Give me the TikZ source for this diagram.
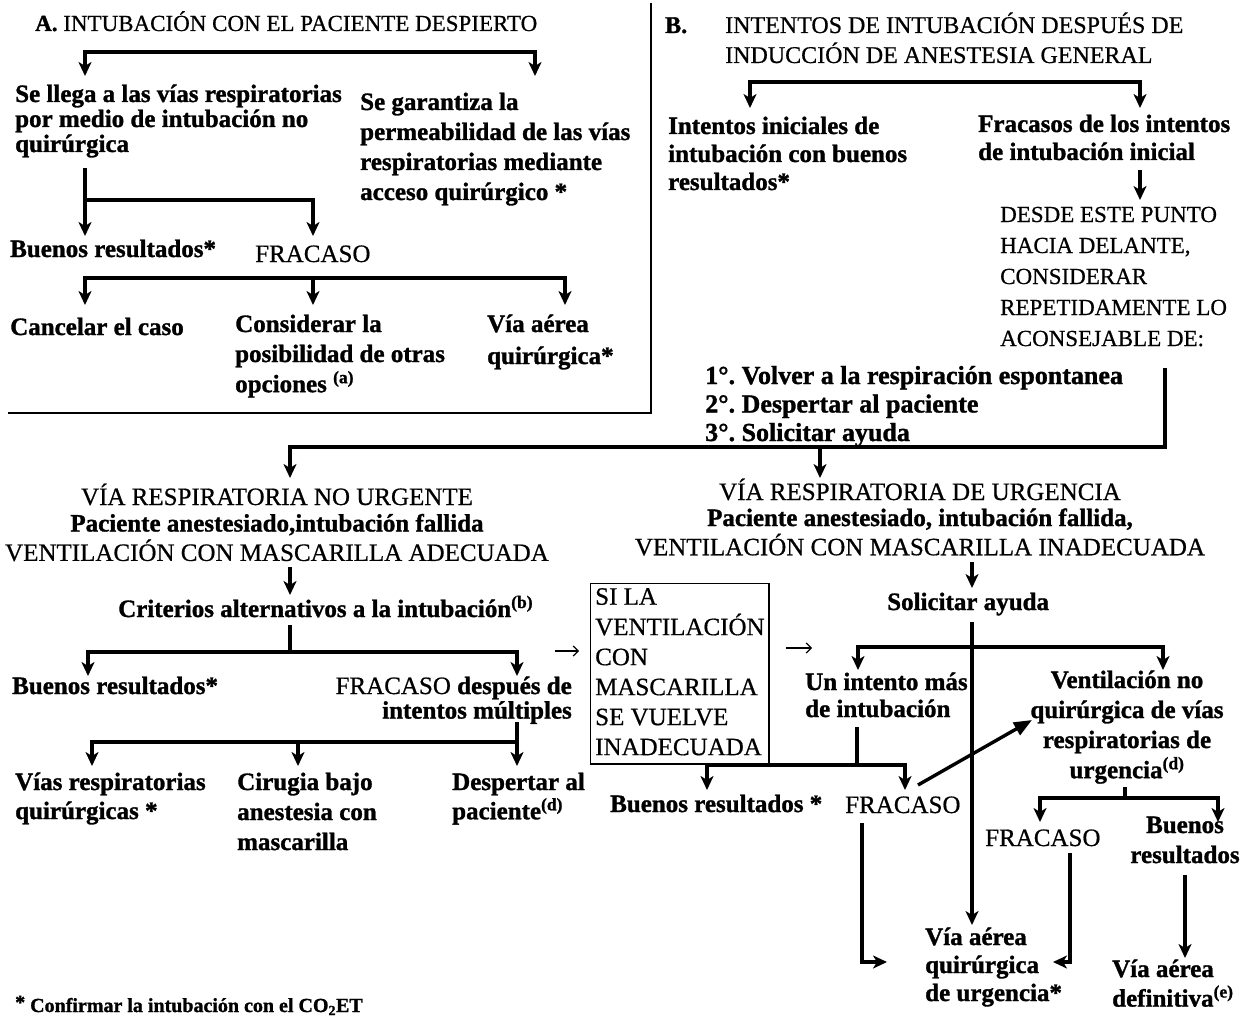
\documentclass[tikz,border=0pt]{standalone}
\usepackage{fontspec}
\setmainfont{Liberation Serif}[UprightFeatures={FakeBold=0.6},BoldFeatures={FakeBold=1.2}]
\usetikzlibrary{arrows.meta,calc}
\newcommand\blk[4]{\fontsize{#1}{#2}\selectfont\begin{tabular}[t]{@{}#3@{}}#4\end{tabular}}
\frenchspacing
\begin{document}
\begin{tikzpicture}[x=1pt,y=-1pt,
 b/.style={inner sep=0pt,anchor=base west,font=\bfseries},
 r/.style={inner sep=0pt,anchor=base west,font=\mdseries},
 bc/.style={inner sep=0pt,anchor=base,font=\bfseries},
 br/.style={inner sep=0pt,anchor=base east,font=\bfseries},
 ln/.style={line width=3.1pt,line join=miter},
 arr/.style={ln,-{Stealth[length=14pt,width=13pt,inset=4pt]}},
 thinarr/.style={line width=1.2pt,-{Straight Barb[length=5pt,width=10pt]}},
 bigarr/.style={line width=3.4pt,-{Triangle[length=18pt,width=14pt]}},
 frame/.style={line width=1.8pt},
 boxnode/.style={draw,line width=1.4pt,anchor=north west,inner xsep=4.5pt,inner ysep=0pt,font=\mdseries},
]
\fill[white] (0,0) rectangle (1246,1035);
\useasboundingbox (0,0) rectangle (1246,1035);

% ---------------- Section A ----------------
\node[b] (tA) at (35,31) {\blk{23}{23}{l}{A.\textmd{ INTUBACIÓN CON EL PACIENTE DESPIERTO}}};
\node[b] (a1) at (15,102) {\blk{25}{25}{l}{Se llega a las vías respiratorias\\por medio de intubación no\\quirúrgica}};
\node[b] (a2) at (360,110) {\blk{25}{30}{l}{Se garantiza la\\permeabilidad de las vías\\respiratorias mediante\\acceso quirúrgico *}};
\node[b] (a3) at (10,257) {\blk{25}{25}{l}{Buenos resultados*}};
\node[r] (a4) at (255,262) {\blk{25}{25}{l}{FRACASO}};
\node[b] (a5) at (10,335) {\blk{25}{25}{l}{Cancelar el caso}};
\node[b] (a6) at (235,332) {\blk{25}{30}{l}{Considerar la\\posibilidad de otras\\opciones \textsuperscript{(a)}}};
\node[b] (a7) at (487,332) {\blk{25}{32}{l}{Vía aérea\\quirúrgica*}};

\coordinate (ja1) at (310,52);
\draw[arr] (ja1) -| (85,76);
\draw[arr] (ja1) -| (535,76);
\coordinate (ja2) at (85,200);
\draw[arr] (85,168) -- (85,236);
\draw[arr] (ja2) -| (313,236);
\coordinate (ja3) at (313,278);
\draw[arr] (ja3) -| (85,305);
\draw[arr] (ja3) -| (565,305);
\draw[arr] (ja3) -- (313,305);
\draw[frame] (651,3) -- (651,413) -- (8,413);

% ---------------- Section B ----------------
\node[b] (tB) at (665,33) {\blk{24}{24}{l}{B.}};
\node[r] (tB2) at (725,33) {\blk{24}{30}{l}{INTENTOS DE INTUBACIÓN DESPUÉS DE\\INDUCCIÓN DE ANESTESIA GENERAL}};
\coordinate (jb1) at (945,82);
\draw[arr] (jb1) -| (750,108);
\draw[arr] (jb1) -| (1140,108);
\node[b] (b1) at (668,134) {\blk{25}{28}{l}{Intentos iniciales de\\intubación con buenos\\resultados*}};
\node[b] (b2) at (978,132) {\blk{25}{28}{l}{Fracasos de los intentos\\de intubación inicial}};
\draw[arr] (1140,170) -- (1140,200);
\node[r] (b3) at (1000,222) {\blk{23}{31}{l}{DESDE ESTE PUNTO\\HACIA DELANTE,\\CONSIDERAR\\REPETIDAMENTE LO\\ACONSEJABLE DE:}};
\node[b] (b4) at (705,384) {\blk{26}{28.5}{l}{1°. Volver a la respiración espontanea\\2°. Despertar al paciente\\3°. Solicitar ayuda}};
\coordinate (jb2) at (1165,447);
\draw[arr] (1165,368) -- (jb2) -| (290,478);
\draw[arr] (820,447) -- (820,478);

% ---------------- Non-urgent branch ----------------
\node[bc] (c1) at (277,505) {\blk{25}{26.5}{c}{\textmd{VÍA RESPIRATORIA NO URGENTE}\\Paciente anestesiado,intubación fallida\\\textmd{VENTILACIÓN CON MASCARILLA ADECUADA}}};
\draw[arr] (290,567) -- (290,595);
\node[b] (c2) at (118,617) {\blk{25}{25}{l}{Criterios alternativos a la intubación\textsuperscript{(b)}}};
\coordinate (jc1) at (290,652);
\draw[arr] (290,625) -- (jc1) -| (88,676);
\draw[arr] (jc1) -| (517,676);
\node[b] (c3) at (12,694) {\blk{25}{25}{l}{Buenos resultados*}};
\node[br] (c4) at (572,694) {\blk{25}{24}{r}{\textmd{FRACASO} después de\\intentos múltiples}};
\coordinate (jc2) at (517,742);
\draw[arr] (517,722) -- (517,766);
\draw[arr] (jc2) -| (92,766);
\draw[arr] (298,742) -- (298,766);
\node[b] (c5) at (15,790) {\blk{25}{29}{l}{Vías respiratorias\\quirúrgicas *}};
\node[b] (c6) at (237,790) {\blk{25}{30}{l}{Cirugia bajo\\anestesia con\\mascarilla}};
\node[b] (c7) at (452,790) {\blk{25}{27}{l}{Despertar al\\paciente\textsuperscript{(d)}}};

% ---------------- Box ----------------
\node[boxnode] (box) at (590,583) {\blk{25}{30}{l}{SI LA\\VENTILACIÓN\\CON\\MASCARILLA\\SE VUELVE\\INADECUADA}};
\coordinate (tl1) at (555,651);
\coordinate (tr1) at (786,648);
\draw[thinarr] (tl1) -- ($(box.west |- tl1)+(-11,0)$);
\draw[thinarr] (tr1) -- ++(26,0);

% ---------------- Urgent branch ----------------
\node[bc] (d1) at (920,500) {\blk{25}{26}{c}{\textmd{VÍA RESPIRATORIA DE URGENCIA}\\Paciente anestesiado, intubación fallida,\\\textmd{VENTILACIÓN CON MASCARILLA INADECUADA}}};
\draw[arr] (972,562) -- (972,588);
\node[b] (d2) at (887,610) {\blk{25}{25}{l}{Solicitar ayuda}};
\coordinate (jd1) at (972,647);
\draw[arr] (972,622) -- (972,925);
\draw[arr] (jd1) -| (858,670);
\draw[arr] (jd1) -| (1163,670);
\node[b] (d3) at (805,690) {\blk{25}{27}{l}{Un intento más\\de intubación}};
\node[bc] (d4) at (1127,688) {\blk{25}{30}{c}{Ventilación no\\quirúrgica de vías\\respiratorias de\\urgencia\textsuperscript{(d)}}};
\coordinate (jd2) at (857,765);
\draw[arr] (857,727) -- (jd2) -| (707,790);
\draw[arr] (jd2) -| (905,790);
\node[b] (d5) at (610,812) {\blk{25}{25}{l}{Buenos resultados *}};
\node[r] (d6) at (845,813) {\blk{25}{25}{l}{FRACASO}};
\draw[bigarr] (918,785) -- (1032,720);
\draw[arr] (862,823) |- (887,962);
\coordinate (jd3) at (1125,798);
\draw[arr] (1125,787) -- (jd3) -| (1040,822);
\draw[arr] (jd3) -| (1218,822);
\node[r] (d7) at (985,846) {\blk{25}{25}{l}{FRACASO}};
\node[bc] (d8) at (1185,833) {\blk{25}{30}{c}{Buenos\\resultados}};
\draw[arr] (1070,853) |- (1053,962);
\draw[arr] (1185,875) -- (1185,958);
\node[b] (d9) at (925,945) {\blk{25}{28}{l}{Vía aérea\\quirúrgica\\de urgencia*}};
\node[b] (d10) at (1112,977) {\blk{25}{28}{l}{Vía aérea\\definitiva\textsuperscript{(e)}}};

% ---------------- Footnote ----------------
\node[b] (fn) at (15,1012) {\blk{20}{20}{l}{\raisebox{3pt}{*} Confirmar la intubación con el CO\textsubscript{2}ET}};
\end{tikzpicture}
\end{document}
